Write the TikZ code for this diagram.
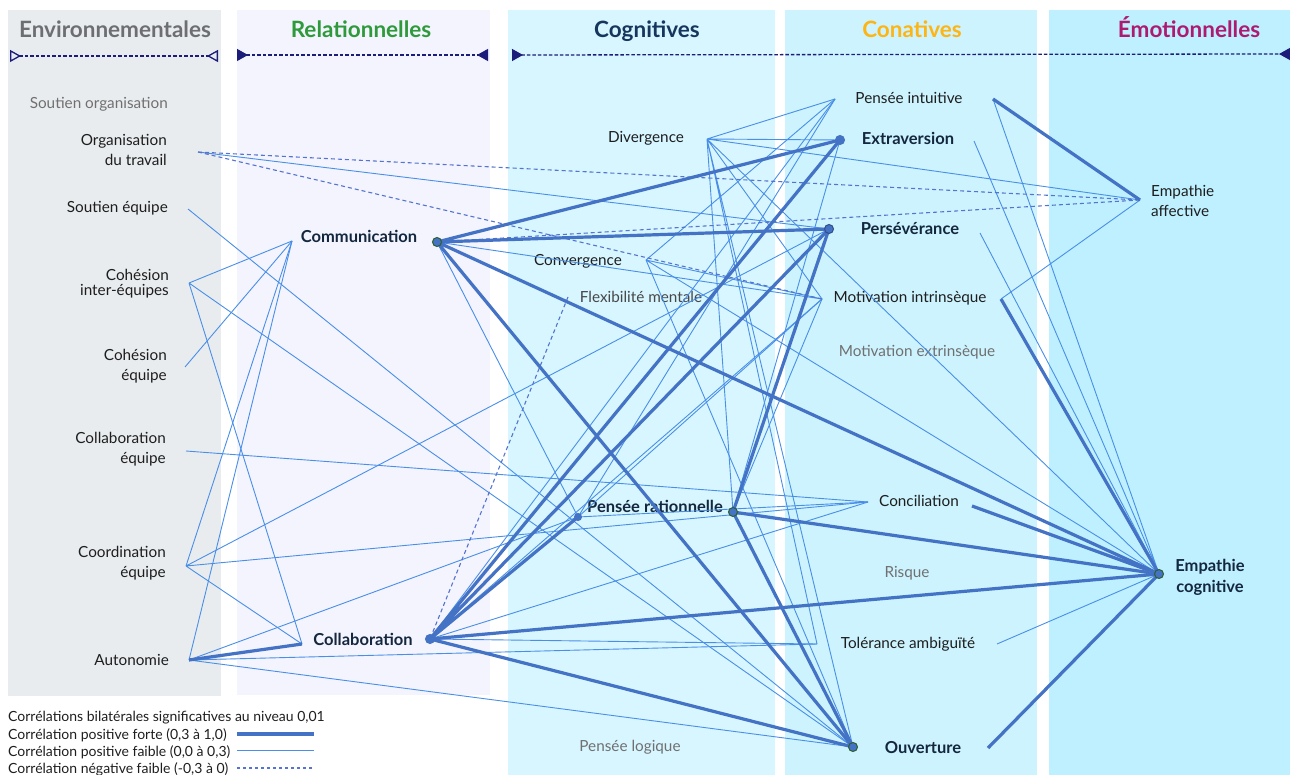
\documentclass[tikz,border=0pt]{standalone}
\usepackage{fontspec}
\setmainfont{Lato}
\usetikzlibrary{arrows.meta}
\definecolor{envbg}{HTML}{E9ECEF}
\definecolor{relbg}{HTML}{F3F4FE}
\definecolor{cogbg}{HTML}{D7F6FF}
\definecolor{conbg}{HTML}{CCF3FE}
\definecolor{emobg}{HTML}{BEF0FF}
\definecolor{envhead}{HTML}{6D6E71}
\definecolor{relhead}{HTML}{2E9A3B}
\definecolor{coghead}{HTML}{17365D}
\definecolor{conhead}{HTML}{FDB515}
\definecolor{emohead}{HTML}{AD1A72}
\definecolor{navyarrow}{HTML}{1C1C7A}
\definecolor{strongblue}{HTML}{4472C4}
\definecolor{weakblue}{HTML}{4A8FE7}
\definecolor{negblue}{HTML}{5574CF}
\definecolor{dotrim}{HTML}{2F5F2F}
\definecolor{txtdark}{HTML}{1E1E1E}
\definecolor{txtnavy}{HTML}{14273E}
\definecolor{txtgrey}{HTML}{707070}

\begin{document}
\begin{tikzpicture}[x=1pt,y=-1pt,
	lbl/.style={font=\fontsize{15.3}{20}\selectfont, text=txtdark, inner sep=0pt},
	lblbold/.style={lbl, font=\fontsize{16.5}{21}\selectfont\bfseries, text=txtnavy},
	lblgrey/.style={lbl, text=txtgrey},
	head/.style={font=\fontsize{22.5}{26}\selectfont\bfseries, inner sep=0pt, anchor=base},
	legtxt/.style={font=\fontsize{14}{16}\selectfont, text=txtdark, inner sep=0pt, anchor=west},
	cdot/.style={circle, fill=strongblue, draw=dotrim, line width=1pt, inner sep=0pt, minimum size=9pt},
	strong/.style={draw=strongblue, line width=3.2pt},
	weak/.style={draw=weakblue, line width=0.9pt},
	neg/.style={draw=negblue, line width=1.1pt, dash pattern=on 4pt off 3pt},
	hdline/.style={draw=navyarrow, line width=1.3pt, dash pattern=on 3.5pt off 2pt}]
	\useasboundingbox (0,0) rectangle (1290,775);
	%%Panels
	\fill[envbg] (8,10) rectangle (221,696);
	\fill[relbg] (237,10) rectangle (490,695);
	\fill[cogbg] (508,10) rectangle (775,775);
	\fill[conbg] (785,10) rectangle (1037,775);
	\fill[emobg] (1049,10) rectangle (1290,775);
	%%Headers
	\node[head, text=envhead] (henv) at (115,38) {Environnementales};
	\node[head, text=relhead] (hrel) at (361,38) {Relationnelles};
	\node[head, text=coghead] (hcog) at (647,38) {Cognitives};
	\node[head, text=conhead] (hcon) at (912,38) {Conatives};
	\node[head, text=emohead] (hemo) at (1189,38) {Émotionnelles};
	\coordinate (envA) at (10,56);
	\coordinate (envB) at (218,56);
	\coordinate (relA) at (237,55);
	\coordinate (relB) at (488,55);
	\coordinate (cogA) at (512,55);
	\coordinate (cogB) at (1290,54);
	\draw[hdline, {Triangle[open,reversed,length=11pt,width=12pt]}-{Triangle[open,reversed,length=11pt,width=12pt]}] (envA) -- (envB);
	\draw[hdline, {Triangle[reversed,length=11pt,width=12pt]}-{Triangle[reversed,length=11pt,width=12pt]}] (relA) -- (relB);
	\draw[hdline, {Triangle[reversed,length=11pt,width=12pt]}-{Triangle[reversed,length=11pt,width=12pt]}] (cogA) -- (cogB);

	%%Environnementales
	\node[lblgrey, anchor=east] (sorg) at (168,104) {Soutien organisation};
	\node[lbl, anchor=east, align=right] (orgtrav) at (167,150) {Organisation\\du travail};
	\node[lbl, anchor=east] (souteq) at (168,208) {Soutien équipe};
	\node[lbl, anchor=east, align=right] (cohinter) at (169,284) {Cohésion\\[-5pt]inter-équipes};
	\node[lbl, anchor=east, align=right] (coheq) at (167,366) {Cohésion\\équipe};
	\node[lbl, anchor=east, align=right] (collabeq) at (166,449) {Collaboration\\équipe};
	\node[lbl, anchor=east, align=right] (coord) at (166,563) {Coordination\\équipe};
	\node[lbl, anchor=east] (auto) at (169,660) {Autonomie};
	\coordinate (orgtravR) at (198,152);
	\coordinate (souteqR) at (188,209);
	\coordinate (cohinterR) at (189,283);
	\coordinate (coheqR) at (185,367);
	\coordinate (collabeqR) at (186,451);
	\coordinate (coordR) at (186,566);
	\coordinate (autoR) at (189,660);
	%%Relationnelles
	\node[lblbold] (comm) at (359,236) {Communication};
	\node[lblbold] (collab) at (363,639) {Collaboration};
	\coordinate (commL) at (292,241);
	\coordinate (commR) at (437,242);
	\coordinate (collabL) at (302,644);
	\coordinate (collabR) at (430,639);
	%%Cognitives
	\node[lbl] (diverg) at (646,138) {Divergence};
	\node[lbl] (converg) at (578,261) {Convergence};
	\node[lbl, text=black!72] (flex) at (641,297) {Flexibilité mentale};
	\node[lblbold] (pratio) at (655,506) {Pensée rationnelle};
	\node[lblgrey] (plog) at (630,747) {Pensée logique};
	\coordinate (divergR) at (707,139);
	\coordinate (convergR) at (646,260);
	\coordinate (flexL) at (568,297);
	\coordinate (pratioL) at (578,517);
	\coordinate (pratioR) at (733,512);
	%%Conatives
	\node[lbl] (pintu) at (909,98) {Pensée intuitive};
	\node[lblbold] (extra) at (908,138) {Extraversion};
	\node[lblbold] (perse) at (910,229) {Persévérance};
	\node[lbl] (motin) at (910,298) {Motivation intrinsèque};
	\node[lblgrey] (motex) at (917,352) {Motivation extrinsèque};
	\node[lbl] (concil) at (919,501) {Conciliation};
	\node[lblgrey] (risque) at (907,573) {Risque};
	\node[lbl] (toler) at (908,644) {Tolérance ambiguïté};
	\node[lblbold] (ouvert) at (923,748) {Ouverture};
	\coordinate (pintuL) at (835,99);
	\coordinate (pintuR) at (993,99);
	\coordinate (extraL) at (840,140);
	\coordinate (extraR) at (974,141);
	\coordinate (perseL) at (829,229);
	\coordinate (perseR) at (980,233);
	\coordinate (motinL) at (822,299);
	\coordinate (motinR) at (1001,299);
	\coordinate (concilL) at (868,502);
	\coordinate (concilR) at (972,506);
	\coordinate (tolerL) at (817,644);
	\coordinate (tolerR) at (997,644);
	\coordinate (ouvertL) at (853,747);
	\coordinate (ouvertR) at (988,748);
	%%Emotionnelles
	\node[lbl, anchor=west, align=left] (empaff) at (1151,201) {Empathie\\affective};
	\node[lblbold, align=center] (empcog) at (1210,577) {Empathie\\cognitive};
	\coordinate (empaffL) at (1140,200);
	\coordinate (empcogL) at (1159,574);

	%%Weak correlations
	\draw[weak] (orgtravR) -- (perseL);
	\draw[weak] (souteqR) -- (ouvertL);
	\draw[weak] (cohinterR) -- (commL) (cohinterR) -- (collabL) (cohinterR) -- (ouvertL);
	\draw[weak] (coheqR) -- (commL);
	\draw[weak] (collabeqR) -- (concilL);
	\draw[weak] (coordR) -- (commL) (coordR) -- (collabL) (coordR) -- (perseL) (coordR) -- (concilL);
	\draw[weak] (autoR) -- (commL) (autoR) -- (pratioL) (autoR) -- (tolerL) (autoR) -- (ouvertL);
	\draw[weak] (commR) -- (pratioL) (commR) -- (motinL);
	\draw[weak] (collabR) -- (motinL) (collabR) -- (concilL) (collabR) -- (tolerL) (collabR) -- (pintuL);
	\draw[weak] (divergR) -- (pintuL) (divergR) -- (extraL) (divergR) -- (empaffL) (divergR) -- (pratioR)
		(divergR) -- (tolerL) (divergR) -- (motinL) (divergR) -- (empcogL) (divergR) -- (ouvertL);
	\draw[weak] (convergR) -- (pintuL) (convergR) -- (motinL) (convergR) -- (ouvertL) (convergR) -- (empcogL);
	\draw[weak] (pratioL) -- (pintuL) (pratioL) -- (motinL) (pratioL) -- (concilL);
	\draw[weak] (pratioR) -- (extraL) (pratioR) -- (motinL);
	\draw[weak] (motinR) -- (empaffL);
	\draw[weak] (pintuR) -- (empcogL) (extraR) -- (empcogL) (perseR) -- (empcogL) (tolerR) -- (empcogL);
	%%Negative correlations
	\draw[neg] (orgtravR) -- (empaffL) (orgtravR) -- (motinL) (commR) -- (empaffL) (flexL) -- (collabR);
	%%Strong correlations
	\draw[strong] (commR) -- (extraL) (commR) -- (perseL) (commR) -- (ouvertL) (commR) -- (empcogL);
	\draw[strong] (collabR) -- (extraL) (collabR) -- (perseL) (collabR) -- (pratioL) (collabR) -- (empcogL) (collabR) -- (ouvertL);
	\draw[strong] (autoR) -- (collabL);
	\draw[strong] (pratioR) -- (perseL) (pratioR) -- (ouvertL) (pratioR) -- (empcogL);
	\draw[strong] (pintuR) -- (empaffL) (motinR) -- (empcogL) (concilR) -- (empcogL) (ouvertR) -- (empcogL);
	%%Dots
	\node[cdot] (dcomm) at (commR) {};
	\node[cdot, draw=strongblue] (dcollab) at (collabR) {};
	\node[cdot, draw=strongblue, minimum size=7pt] (dpratioL) at (pratioL) {};
	\node[cdot] (dpratioR) at (pratioR) {};
	\node[cdot, draw=strongblue] (dextra) at (extraL) {};
	\node[cdot, draw=strongblue!70!black] (dperse) at (perseL) {};
	\node[cdot] (douvert) at (ouvertL) {};
	\node[cdot] (dempcog) at (empcogL) {};

	%%Legend
	\node[legtxt] (leg0) at (8,718) {Corrélations bilatérales significatives au niveau 0,01};
	\node[legtxt] (leg1) at (8,735) {Corrélation positive forte (0,3 à 1,0)};
	\node[legtxt] (leg2) at (8,752) {Corrélation positive faible (0,0 à 0,3)};
	\node[legtxt] (leg3) at (8,769) {Corrélation négative faible (-0,3 à 0)};
	\coordinate (legA1) at (237,734);
	\coordinate (legB1) at (314,734);
	\coordinate (legA2) at (237,750);
	\coordinate (legB2) at (314,750);
	\coordinate (legA3) at (237,768);
	\coordinate (legB3) at (314,768);
	\draw[strong] (legA1) -- (legB1);
	\draw[weak] (legA2) -- (legB2);
	\draw[neg, dash pattern=on 3pt off 3pt] (legA3) -- (legB3);
\end{tikzpicture}
\end{document}
